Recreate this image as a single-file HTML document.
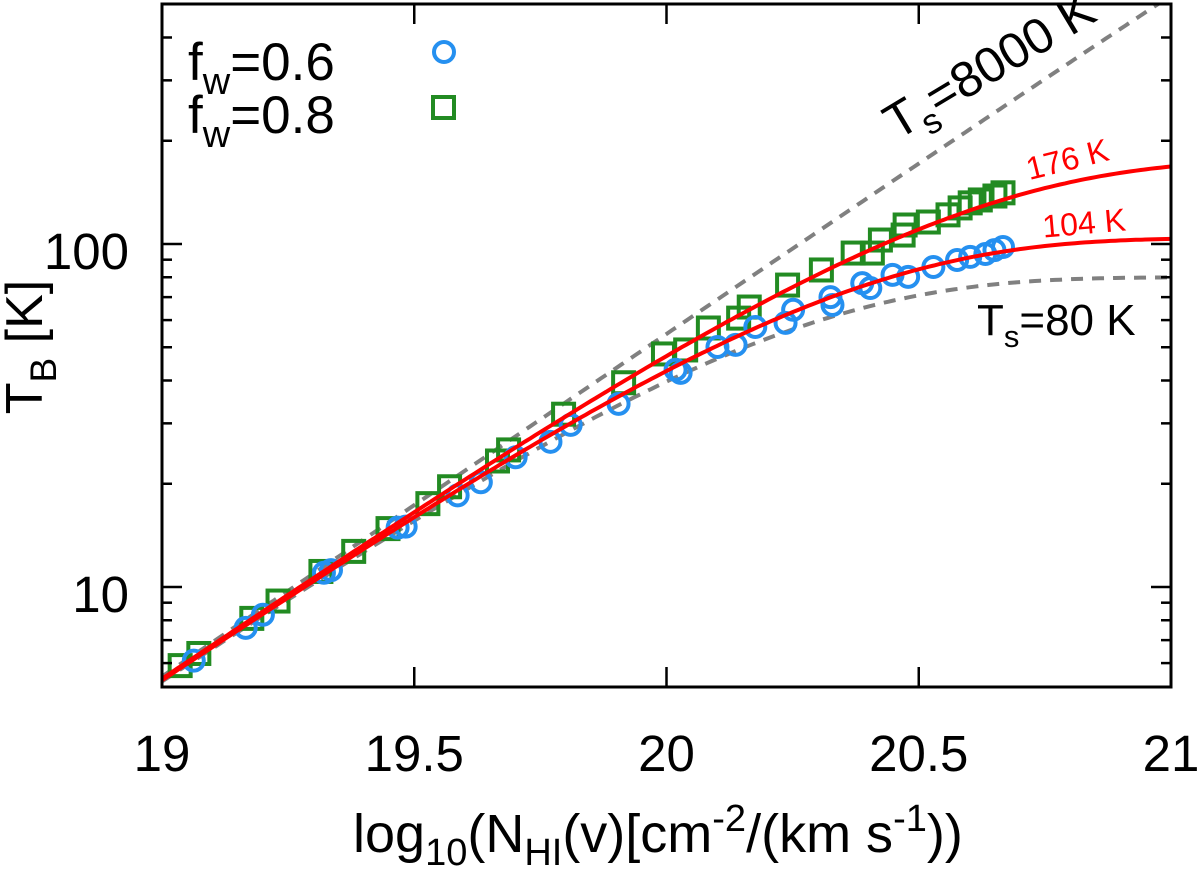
<!DOCTYPE html>
<html><head><meta charset="utf-8"><style>
html,body{margin:0;padding:0;background:#fff;width:1200px;height:870px;overflow:hidden}
svg text{font-family:"Liberation Sans",Helvetica,sans-serif}
</style></head><body>
<svg id="chart" width="1200" height="870" xmlns="http://www.w3.org/2000/svg">
<g id="marks"></g>
<g id="axes"></g>
<g>
<text x="188" y="80" font-size="53">f<tspan font-size="38" dy="14">w</tspan><tspan dy="-14">=0.6</tspan></text>
<text x="188" y="133" font-size="53">f<tspan font-size="38" dy="14">w</tspan><tspan dy="-14">=0.8</tspan></text>
<circle cx="444" cy="52" r="10" fill="none" stroke="#2590f0" stroke-width="4"/>
<rect x="433" y="97" width="21" height="21" fill="none" stroke="#228b22" stroke-width="4"/>
</g>
<text transform="translate(998,80) rotate(-31)" text-anchor="middle" font-size="50">T<tspan font-size="35" dy="13">s</tspan><tspan dy="-13">=8000 K</tspan></text>
<text transform="translate(1070,170) rotate(-14)" text-anchor="middle" font-size="32" fill="#ff0000">176 K</text>
<text transform="translate(1085,234) rotate(-5)" text-anchor="middle" font-size="32" fill="#ff0000">104 K</text>
<text x="977" y="335" font-size="44">T<tspan font-size="31" dy="12">s</tspan><tspan dy="-12">=80 K</tspan></text>
<text transform="translate(42,347) rotate(-90)" text-anchor="middle" font-size="52">T<tspan font-size="37" dy="14">B</tspan><tspan dy="-14"> [K]</tspan></text>
<text x="353" y="852" font-size="54">log<tspan font-size="38" dy="13">10</tspan><tspan dy="-13">(N</tspan><tspan font-size="38" dy="13">HI</tspan><tspan dy="-13">(v)[cm</tspan><tspan font-size="38" dy="-21">-2</tspan><tspan dy="21">/(km s</tspan><tspan font-size="38" dy="-21">-1</tspan><tspan dy="21">))</tspan></text>
</svg>
<script>
const blueX=[19.063,19.166,19.200,19.321,19.335,19.467,19.483,19.586,19.632,19.701,19.770,19.810,19.905,20.018,20.028,20.101,20.137,20.176,20.236,20.251,20.325,20.329,20.388,20.404,20.448,20.479,20.529,20.576,20.602,20.632,20.650,20.667];
const blueT=[6.1,7.6,8.3,11.0,11.2,14.9,15.0,18.5,20.2,23.9,26.5,29.7,34.2,43.0,42.1,50.1,50.8,57.3,58.9,64.3,70.0,66.4,76.9,74.4,81.3,80.2,85.7,89.8,91.7,93.5,96.0,98.0];
const greenX=[19.036,19.073,19.178,19.230,19.315,19.380,19.448,19.527,19.570,19.665,19.687,19.796,19.915,19.994,20.038,20.083,20.143,20.164,20.240,20.307,20.370,20.408,20.424,20.469,20.473,20.519,20.558,20.582,20.602,20.622,20.651,20.667];
const greenT=[5.9,6.4,8.1,9.1,11.1,12.7,14.8,17.5,19.6,23.3,25.1,31.9,39.4,47.8,49.1,56.9,60.8,65.5,75.9,84.0,94.1,94.1,102.7,106.2,113.6,115.9,121.6,127.4,131.8,134.4,138.0,141.0];
const solidTs=[176,104];
const dashedTs=[8000,80];
const xTicks=[19,19.5,20,20.5,21];
const xTickLabels=["19","19.5","20","20.5","21"];
const yMajor=[10,100];
const yMajorLabels=["10","100"];
const yMinor=[6,7,8,9,20,30,40,50,60,70,80,90,200,300,400];

const L=162,R=1171,T=4,B=687;
const X0=19,X1=21;
const LOG_AT_244=2,PXDEC=343;
function sx(v){return L+(v-X0)/(X1-X0)*(R-L);}
function sy(t){return 244-(Math.log10(t)-LOG_AT_244)*PXDEC;}
const NS="http://www.w3.org/2000/svg";
const marks=document.getElementById('marks'),axes=document.getElementById('axes');
function mk(tag,attrs,parent){const e=document.createElementNS(NS,tag);for(const k in attrs)e.setAttribute(k,attrs[k]);parent.appendChild(e);return e;}
const clip=mk('clipPath',{id:'pc'},marks);mk('rect',{x:L,y:T,width:R-L,height:B-T},clip);
const g=mk('g',{'clip-path':'url(#pc)'},marks);
function model(ts,x){const N=Math.pow(10,x);return ts*(1-Math.exp(-N/(1.823e18*ts)));}
function curve(ts,style,name){let d='';for(let i=0;i<=200;i++){const x=X0+(X1-X0)*i/200;d+=(i?'L':'M')+sx(x).toFixed(1)+','+sy(model(ts,x)).toFixed(1);}
 const p=mk('path',Object.assign({d:d,fill:'none'},style),g);
 
 }
dashedTs.forEach(ts=>curve(ts,{stroke:'#808080','stroke-width':4,'stroke-dasharray':'12,9'},'dashed-curve-ts-'+ts));
greenX.forEach((x,i)=>{const s=mk('rect',{x:sx(x)-10.5,y:sy(greenT[i])-10.5,width:21,height:21,fill:'none',stroke:'#228b22','stroke-width':4},g);
 
 });
blueX.forEach((x,i)=>{const c=mk('circle',{cx:sx(x),cy:sy(blueT[i]),r:10,fill:'none',stroke:'#2590f0','stroke-width':4},g);
 
 });
solidTs.forEach(ts=>curve(ts,{stroke:'#ff0000','stroke-width':4},'model-curve-'+ts+'k'));
const fr=mk('rect',{x:L,y:T,width:R-L,height:B-T,fill:'none',stroke:'#000','stroke-width':3},axes);


xTicks.forEach((v,i)=>{const x=sx(v);
 if(i>0&&i<xTicks.length-1){mk('line',{x1:x,y1:B,x2:x,y2:B-20,stroke:'#000','stroke-width':2.5},axes);mk('line',{x1:x,y1:T,x2:x,y2:T+20,stroke:'#000','stroke-width':2.5},axes);}
 const t=mk('text',{x:x,y:771,'text-anchor':'middle','font-size':51},axes);t.textContent=xTickLabels[i];
 
 });
yMajor.forEach((v,i)=>{const y=sy(v);
 mk('line',{x1:L,y1:y,x2:L+20,y2:y,stroke:'#000','stroke-width':2.5},axes);mk('line',{x1:R,y1:y,x2:R-20,y2:y,stroke:'#000','stroke-width':2.5},axes);
 const t=mk('text',{x:L-33,y:y+25,'text-anchor':'end','font-size':51},axes);t.textContent=yMajorLabels[i];
 
 });
yMinor.forEach(v=>{const y=sy(v);if(y<T||y>B)return;
 mk('line',{x1:L,y1:y,x2:L+10,y2:y,stroke:'#000','stroke-width':2.5},axes);mk('line',{x1:R,y1:y,x2:R-10,y2:y,stroke:'#000','stroke-width':2.5},axes);});
</script>
</body></html>
